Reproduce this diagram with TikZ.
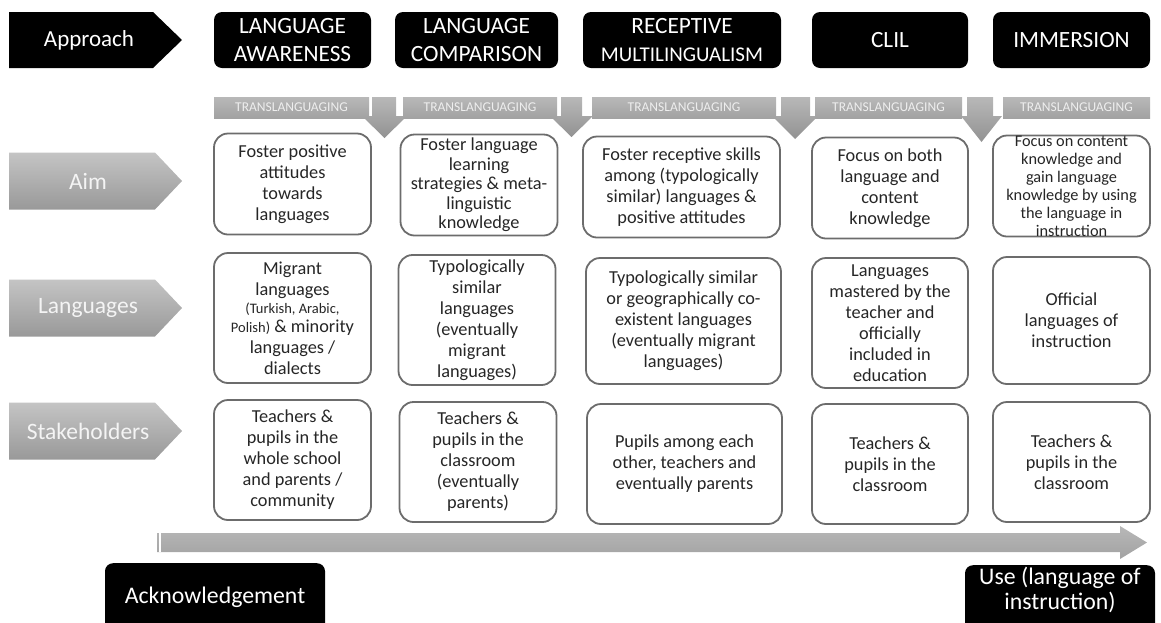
\documentclass[tikz,border=0pt]{standalone}
\usepackage{fontspec}
\setmainfont{Carlito}
\definecolor{lgtop}{HTML}{C4C4C4}
\definecolor{lgbot}{HTML}{999999}
\definecolor{tltop}{HTML}{B8B8B8}
\definecolor{tlbot}{HTML}{A2A2A2}
\definecolor{bord}{HTML}{6C6C6C}
\definecolor{txt}{HTML}{262626}
\definecolor{labtxt}{HTML}{F4F4F4}
\definecolor{tltxt}{HTML}{EEEEEE}
\begin{document}
\begin{tikzpicture}[x=1pt,y=-1pt,
  hdrbox/.style={fill=black, rounded corners=8pt, minimum height=56pt, text=white, align=center,
    font=\fontsize{23.3}{28}\selectfont, inner sep=0pt},
  hdrtext/.style={text=white, font=\fontsize{23}{28}\selectfont, inner sep=0pt},
  cbox/.style={draw=bord, line width=1.8pt, fill=white, rounded corners=14pt, align=center,
    text=txt, font=\fontsize{18.3}{21}\selectfont, inner sep=0pt},
  tlbar/.style={top color=tltop, bottom color=tlbot, minimum height=21pt, inner sep=0pt,
    text=tltxt, font=\fontsize{13.5}{14}\selectfont},
  labtext/.style={text=labtxt, font=\fontsize{23.5}{26}\selectfont, inner sep=0pt},
  botbox/.style={fill=black, rounded corners=8pt, inner sep=0pt},
  bottext/.style={text=white, align=center, font=\fontsize{23.8}{25}\selectfont, inner sep=0pt}
]
\useasboundingbox (0,0) rectangle (1161,622);
\clip (0,0) rectangle (1161,622);

% ---------- header ----------
\fill[black] (9,12) -- (153,12) -- (182,40) -- (153,68) -- (9,68) -- cycle;
\node[hdrtext] (approach) at (89,40) {Approach};
\node[hdrbox, minimum width=157pt] (h1) at (292.5,40) {LANGUAGE\\AWARENESS};
\node[hdrbox, minimum width=163pt] (h2) at (476.5,40) {LANGUAGE\\COMPARISON};
\node[hdrbox, minimum width=198pt] (h3) at (682,40) {RECEPTIVE\\{\fontsize{21}{24}\selectfont MULTILINGUALISM}};
\node[hdrbox, minimum width=156pt] (h4) at (890,40) {CLIL};
\node[hdrbox, minimum width=157pt] (h5) at (1071.5,40) {IMMERSION};

% ---------- translanguaging bent arrows ----------
\newcommand{\downarr}[6]{%
  \shade[top color=tltop, bottom color=tlbot!90!black]
    (#1,97) -- (#2,97) -- (#2,116) -- (#4,116) -- (#5,#6) -- (#3,116) -- (#1,116) -- cycle;}
\downarr{372}{396}{362}{407}{384.5}{138}
\downarr{561}{582}{550}{593}{571.5}{137}
\downarr{781}{810}{772}{818}{795}{139}
\downarr{967}{993}{961}{1002}{981.5}{142}
\node[tlbar, minimum width=155pt] (t1) at (291.5,107.5) {TRANSLANGUAGING};
\node[tlbar, minimum width=154pt] (t2) at (480,107.5) {TRANSLANGUAGING};
\node[tlbar, minimum width=184pt] (t3) at (684,107.5) {TRANSLANGUAGING};
\node[tlbar, minimum width=147pt] (t4) at (888.5,107.5) {TRANSLANGUAGING};
\node[tlbar, minimum width=147pt] (t5) at (1076.5,107.5) {TRANSLANGUAGING};

% ---------- row labels ----------
\newcommand{\labarrow}[1]{%
  \shade[top color=lgtop, bottom color=lgbot]
    (9,#1-28.5) -- (155,#1-28.5) -- (182,#1) -- (155,#1+28.5) -- (9,#1+28.5) -- cycle;}
\labarrow{181}
\labarrow{308}
\labarrow{431}
\node[labtext] (aim) at (88,181) {Aim};
\node[labtext] (lang) at (88,308) {Languages};
\node[labtext] (stake) at (88,431) {Stakeholders};

% ---------- row 1: aim ----------
\node[cbox, minimum width=157pt, minimum height=101pt] (a1) at (292.5,184) {Foster positive\\attitudes\\towards\\languages};
\node[cbox, minimum width=157pt, minimum height=101pt, font=\fontsize{18.3}{19.5}\selectfont] (a2) at (479,185) {Foster language\\learning\\strategies \& meta-\\linguistic\\knowledge};
\node[cbox, minimum width=197pt, minimum height=101pt] (a3) at (681.5,187) {Foster receptive skills\\among (typologically\\similar) languages \&\\positive attitudes};
\node[cbox, minimum width=156pt, minimum height=101pt] (a4) at (890,188) {Focus on both\\language and\\content\\knowledge};
\node[cbox, minimum width=157pt, minimum height=101pt, font=\fontsize{16.3}{18}\selectfont] (a5) at (1071.5,186) {Focus on content\\knowledge and\\gain language\\knowledge by using\\the language in\\instruction};

% ---------- row 2: languages ----------
\node[cbox, minimum width=157pt, minimum height=130pt] (l1) at (292.5,318) {Migrant\\languages\\[-3pt]{\fontsize{14.5}{16}\selectfont (Turkish, Arabic,}\\[-2pt]{\fontsize{14.5}{16}\selectfont Polish)} \& minority\\languages /\\dialects};
\node[cbox, minimum width=157pt, minimum height=130pt] (l2) at (477,320) {Typologically\\similar\\languages\\(eventually\\migrant\\languages)};
\node[cbox, minimum width=195pt, minimum height=126pt] (l3) at (683.5,321) {Typologically similar\\or geographically co-\\existent languages\\(eventually migrant\\languages)};
\node[cbox, minimum width=156pt, minimum height=130pt] (l4) at (890,323) {Languages\\mastered by the\\teacher and\\officially\\included in\\education};
\node[cbox, minimum width=157pt, minimum height=127pt] (l5) at (1071.5,320.5) {Official\\languages of\\instruction};

% ---------- row 3: stakeholders ----------
\node[cbox, minimum width=157pt, minimum height=120pt] (s1) at (292.5,460) {Teachers \&\\pupils in the\\whole school\\and parents /\\community};
\node[cbox, minimum width=157pt, minimum height=120pt] (s2) at (478,462) {Teachers \&\\pupils in the\\classroom\\(eventually\\parents)};
\node[cbox, minimum width=195pt, minimum height=120pt] (s3) at (684.5,464) {Pupils among each\\other, teachers and\\eventually parents};
\node[cbox, minimum width=156pt, minimum height=120pt] (s4) at (890,464) {Teachers \&\\pupils in the\\classroom};
\node[cbox, minimum width=157pt, minimum height=120pt] (s5) at (1071.5,462) {Teachers \&\\pupils in the\\classroom};

% ---------- bottom progression arrow ----------
\shade[top color=tltop, bottom color=tlbot]
  (157,533) -- (1120,533) -- (1120,526) -- (1147,542.5) -- (1120,559) -- (1120,552) -- (157,552) -- cycle;
\draw[white, line width=1.2pt] (160,533) -- (160,552);

% ---------- bottom boxes ----------
\node[botbox, minimum width=220pt, minimum height=90pt, anchor=north] (ackbox) at (215,563) {};
\node[bottext] (ack) at (215,597) {Acknowledgement};
\node[botbox, minimum width=190pt, minimum height=90pt, anchor=north] (usebox) at (1060,565) {};
\node[bottext] (use) at (1060,590) {Use (language of\\instruction)};
\end{tikzpicture}
\end{document}
